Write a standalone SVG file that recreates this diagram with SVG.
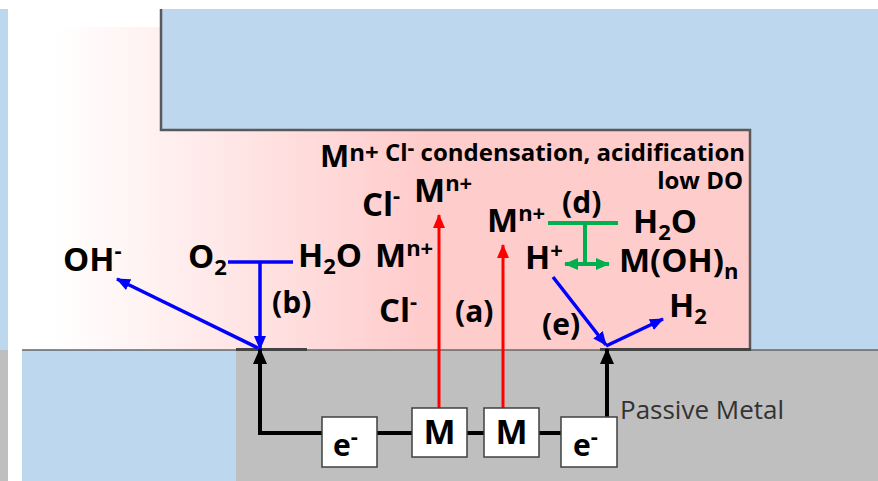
<svg xmlns="http://www.w3.org/2000/svg" width="878" height="481" viewBox="0 0 878 481">
<defs>
<linearGradient id="pinkGrad" gradientUnits="userSpaceOnUse" x1="55" y1="0" x2="420" y2="0">
<stop offset="0" stop-color="#FFFFFF"/>
<stop offset="1" stop-color="#FFCCCC"/>
</linearGradient>
<marker id="ahBlue" markerUnits="userSpaceOnUse" markerWidth="14" markerHeight="12" refX="13" refY="6" orient="auto" viewBox="0 0 14 12"><path d="M0,0 L14,6 L0,12 z" fill="#0000FF"/></marker>
<marker id="ahRed" markerUnits="userSpaceOnUse" markerWidth="14" markerHeight="12" refX="13" refY="6" orient="auto" viewBox="0 0 14 12"><path d="M0,0 L14,6 L0,12 z" fill="#FF0000"/></marker>
<marker id="ahGreen" markerUnits="userSpaceOnUse" markerWidth="14" markerHeight="12" refX="13" refY="6" orient="auto-start-reverse" viewBox="0 0 14 12"><path d="M0,0 L14,6 L0,12 z" fill="#00B050"/></marker>
<marker id="ahBlack" markerUnits="userSpaceOnUse" markerWidth="16" markerHeight="14" refX="15" refY="7" orient="auto" viewBox="0 0 16 14"><path d="M0,0 L16,7 L0,14 z" fill="#000000"/></marker>
</defs>
<style>
.t{font-family:"Open Sans","Liberation Sans",sans-serif;font-weight:bold;font-size:33px;fill:#000}
.sm{font-size:22px}
.lb{font-size:30px}
.hd{font-size:24px}
.hs{font-size:21px}
.pm{font-family:"Open Sans","Liberation Sans",sans-serif;font-weight:normal;font-size:26px;fill:#333}
.bx{fill:#FFFFFF;stroke:#404040;stroke-width:1.5}
.bl{stroke:#0000FF;stroke-width:3.5;fill:none}
.rd{stroke:#FF0000;stroke-width:3;fill:none}
.gr{stroke:#00B050;stroke-width:4;fill:none}
.bk{stroke:#000000;stroke-width:4;fill:none}
</style>

<g id="background">
<rect x="0" y="0" width="878" height="481" fill="#FFFFFF"/>
<rect x="0" y="9" width="8" height="341" fill="#BDD7EE"/>
<rect x="0" y="350" width="8" height="131" fill="#BFBFBF"/>
<rect x="22" y="27" width="728" height="323" fill="url(#pinkGrad)"/>
<path d="M161,9 H878 V350 H750 V130 H161 Z" fill="#BDD7EE"/>
<path d="M161,9 V130 H750 V350" fill="none" stroke="#595959" stroke-width="2.5"/>
<rect x="22" y="350" width="214" height="131" fill="#BDD7EE"/>
<rect x="236" y="350" width="642" height="131" fill="#BFBFBF"/>
<line x1="22" y1="350" x2="878" y2="350" stroke="#666666" stroke-width="1.5"/>
<line x1="236" y1="349.5" x2="307" y2="349.5" stroke="#444444" stroke-width="3"/>
<line x1="600" y1="349.5" x2="751" y2="349.5" stroke="#444444" stroke-width="3"/>
</g>

<g id="connectors">
<line class="bl" x1="228" y1="262" x2="293" y2="262"/>
<line class="bl" x1="260" y1="262" x2="260" y2="349" marker-end="url(#ahBlue)"/>
<line class="bl" x1="258" y1="348" x2="117" y2="279" marker-end="url(#ahBlue)"/>
<line class="bl" x1="553" y1="277" x2="606" y2="345" marker-end="url(#ahBlue)"/>
<line class="bl" x1="606" y1="346" x2="663" y2="319" marker-end="url(#ahBlue)"/>
<line class="gr" x1="548" y1="223" x2="618" y2="223"/>
<line class="gr" x1="585" y1="223" x2="585" y2="264"/>
<line class="gr" x1="565" y1="264" x2="609" y2="264" marker-start="url(#ahGreen)" marker-end="url(#ahGreen)"/>
<line class="rd" x1="439" y1="408" x2="439" y2="215" marker-end="url(#ahRed)"/>
<line class="rd" x1="503" y1="408" x2="503" y2="245" marker-end="url(#ahRed)"/>
<path class="bk" d="M322,433 H260 V349" marker-end="url(#ahBlack)"/>
<line class="bk" x1="607" y1="417" x2="607" y2="349" marker-end="url(#ahBlack)"/>
<line class="bk" x1="377" y1="433" x2="412" y2="433"/>
<line class="bk" x1="467" y1="433" x2="484" y2="433"/>
<line class="bk" x1="539" y1="433" x2="561" y2="433"/>
</g>

<g id="box-e-left"><rect class="bx" x="322" y="417" width="55" height="50"/><text class="t" x="333" y="456" style="font-size:30px">e<tspan class="sm" dy="-12">-</tspan></text></g>
<g id="box-m-1"><rect class="bx" x="412" y="408" width="55" height="49"/><text class="t" x="439.5" y="444" text-anchor="middle" style="font-size:34px">M</text></g>
<g id="box-m-2"><rect class="bx" x="484" y="408" width="55" height="49"/><text class="t" x="511.5" y="444" text-anchor="middle" style="font-size:34px">M</text></g>
<g id="box-e-right"><rect class="bx" x="561" y="417" width="56" height="50"/><text class="t" x="573" y="456" style="font-size:30px">e<tspan class="sm" dy="-12">-</tspan></text></g>

<g id="label-title"><text class="t" x="320" y="167" style="font-size:31px">M<tspan class="hd" dy="-6">n+ Cl</tspan><tspan class="hs" dy="-6">-</tspan><tspan class="hd" dy="6"> condensation, acidification</tspan></text></g>
<g id="label-lowdo"><text class="t hd" x="743" y="189" text-anchor="end">low DO</text></g>
<g id="ion-oh"><text class="t" x="63" y="271">OH<tspan class="sm" dy="-13">-</tspan></text></g>
<g id="ion-o2"><text class="t" x="188" y="268">O<tspan class="sm" dy="7">2</tspan></text></g>
<g id="ion-h2o-left"><text class="t" x="298" y="267">H<tspan class="sm" dy="7">2</tspan><tspan dy="-7">O</tspan></text></g>
<g id="ion-m-mid"><text class="t" x="375" y="267">M<tspan class="sm" dy="-11">n+</tspan></text></g>
<g id="ion-cl-low"><text class="t" x="379" y="322">Cl<tspan class="sm" dy="-13">-</tspan></text></g>
<g id="ion-cl-up"><text class="t" x="362" y="216">Cl<tspan class="sm" dy="-13">-</tspan></text></g>
<g id="ion-m-up"><text class="t" x="414" y="202">M<tspan class="sm" dy="-11">n+</tspan></text></g>
<g id="ion-m-right"><text class="t" x="487" y="232">M<tspan class="sm" dy="-11">n+</tspan></text></g>
<g id="ion-h2o-right"><text class="t" x="633" y="233">H<tspan class="sm" dy="7">2</tspan><tspan dy="-7">O</tspan></text></g>
<g id="ion-h"><text class="t" x="525" y="269">H<tspan class="sm" dy="-11">+</tspan></text></g>
<g id="ion-moh"><text class="t" x="619" y="272">M(OH)<tspan class="sm" dy="7">n</tspan></text></g>
<g id="ion-h2"><text class="t" x="669" y="317">H<tspan class="sm" dy="7">2</tspan></text></g>
<g id="label-a"><text class="t lb" x="455" y="322">(a)</text></g>
<g id="label-b"><text class="t lb" x="272" y="313">(b)</text></g>
<g id="label-d"><text class="t lb" x="562" y="213">(d)</text></g>
<g id="label-e"><text class="t lb" x="542" y="335">(e)</text></g>
<g id="label-passive"><text class="pm" x="620" y="419">Passive Metal</text></g>
</svg>
